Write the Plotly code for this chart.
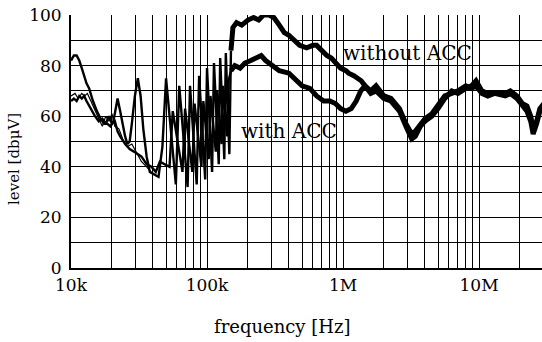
import numpy as np
import plotly.graph_objects as go

# ---- data (frequencies in kHz, levels in dBµV) ----
# "without ACC": low-frequency / comb part
wo_low_f = [10, 10.5, 11, 11.5, 12, 13, 13.6, 14.5, 15.5, 16.5, 17.5, 18.5, 19.5, 20.5,
            21.5, 22, 23, 24, 25, 26, 27, 28, 29.5, 31, 32.5, 34, 36, 38, 41, 44, 47,
            50, 59, 62.5, 72, 75, 84, 87.5, 97, 100, 109, 112.5, 122, 125, 134, 137.5, 146, 150]
wo_low_v = [82, 84, 84, 82, 79, 73, 71, 66, 62, 59, 57, 57, 56, 58,
            64, 67, 62, 56, 52, 49, 50, 57, 68, 75, 68, 55, 44, 38, 37, 36, 48,
            75, 33, 72, 32, 72, 33, 76, 35, 79, 38, 81, 41, 83, 43, 85, 45, 86]

# "without ACC": above 150 kHz
wo_high_f = [150, 155, 165, 180, 200, 220, 240, 260, 285, 310, 340, 370, 400, 445, 480,
             540, 600, 640, 700, 760, 820, 890, 960, 1050, 1100, 1200, 1360, 1500, 1600,
             1750, 2000, 2250, 2600, 2900, 3200, 3400, 3700, 4000, 4500, 5000, 5600, 6300,
             7000, 8000, 8800, 9500, 10500, 11600, 13000, 15600, 17000, 19000, 20800,
             22500, 24000, 25000, 26500, 28000, 30000]
wo_high_v = [86, 95, 97, 96, 98, 99, 98, 100, 100, 99, 96, 93, 92, 90, 88,
             87, 88, 88, 86, 84, 83, 81, 79, 78, 77, 76, 74, 71, 69,
             70, 67, 66, 62, 56, 51, 52, 56, 58, 60, 63, 67, 70,
             69, 71, 72, 74, 70, 69, 69, 69, 70, 68, 65,
             64, 60, 55, 58, 63, 65]

# "with ACC": low-frequency / comb part
w_low_f = [10, 10.5, 11, 11.5, 12, 12.5, 13, 14, 15, 16, 17, 18, 19, 20, 21, 22, 23,
           25, 27, 29, 31, 33, 36, 39, 42, 45,
           53, 56, 66, 69, 78, 81, 91, 94, 103, 106, 116, 119, 128, 131, 141, 144, 150]
w_low_v = [66, 67, 66, 68, 67, 68, 66, 63, 60, 58, 59, 57, 60, 57, 58, 54, 52,
           49, 47, 46, 45, 44, 41, 40, 38, 42,
           40, 62, 38, 63, 38, 65, 40, 66, 43, 68, 46, 70, 49, 72, 52, 74, 78]

# second thin measurement near "with ACC" at low frequency
w2_low_f = [10, 10.7, 11.3, 12, 12.6, 13.2, 14, 15, 16, 17, 18, 19, 20, 21, 22.5, 24,
            26, 28, 30, 33, 36, 40]
w2_low_v = [68, 69, 67, 69, 68, 69, 66, 62, 59, 56, 60, 58, 61, 56, 55, 51,
            48, 49, 46, 42, 40, 37]

# "with ACC": above 150 kHz
w_high_f = [150, 160, 175, 190, 210, 230, 250, 270, 300, 340, 400, 450, 500, 570, 640,
            720, 800, 880, 960, 1050, 1150, 1250, 1350, 1450, 1600, 1750, 2000, 2250,
            2600, 2900, 3200, 3400, 3700, 4000, 4500, 5000, 5600, 6300, 7000, 8000,
            8800, 9500, 10500, 11600, 13000, 15600, 17000, 19000, 20800, 22500, 24000,
            25000, 26500, 28000, 30000]
w_high_v = [78, 80, 79, 81, 82, 83, 84, 82, 80, 78, 77, 74, 72, 71, 68,
            66, 66, 65, 63, 62, 63, 66, 70, 72, 70, 72, 68, 67,
            63, 57, 53, 54, 57, 59, 61, 64, 68, 69, 70, 72,
            71, 72, 69, 68, 69, 68, 69, 67, 64, 62, 58,
            53, 57, 62, 64]

x_grid_vals = [m * 10 ** e for e in range(4, 8) for m in range(1, 10)]
x_tick_labels = {1e4: "10k", 1e5: "100k", 1e6: "1M", 1e7: "10M"}
y_grid_vals = list(range(0, 101, 10))
y_tick_labels = {0: "0", 20: "20", 40: "40", 60: "60", 80: "80", 100: "100"}

FONT = "DejaVu Serif"

def hz(khz):
    return [v * 1e3 for v in khz]

fig = go.Figure()
line_thin = dict(color="black", width=2.4)
line_thick = dict(color="black", width=5)
fig.add_trace(go.Scatter(x=hz(w2_low_f), y=w2_low_v, mode="lines",
                         line=dict(color="black", width=1.2)))
fig.add_trace(go.Scatter(x=hz(w_low_f), y=w_low_v, mode="lines", line=line_thin))
fig.add_trace(go.Scatter(x=hz(wo_low_f), y=wo_low_v, mode="lines", line=line_thin))
fig.add_trace(go.Scatter(x=hz(w_high_f), y=w_high_v, mode="lines", line=line_thick))
fig.add_trace(go.Scatter(x=hz(wo_high_f), y=wo_high_v, mode="lines", line=line_thick))

fig.add_annotation(x=np.log10(0.97e6), y=85, text="without ACC", showarrow=False,
                   xanchor="left", yanchor="middle",
                   font=dict(family=FONT, size=20, color="black"))
fig.add_annotation(x=np.log10(173e3), y=54, text="with ACC", showarrow=False,
                   xanchor="left", yanchor="middle",
                   font=dict(family=FONT, size=20, color="black"))

fig.add_annotation(xref="paper", yref="paper", x=0.448, y=-0.233,
                   text="frequency [Hz]", showarrow=False,
                   xanchor="center", yanchor="middle",
                   font=dict(family=FONT, size=18, color="black"))
fig.add_annotation(xref="paper", yref="paper", x=-0.121, y=0.431,
                   text="level [dbμV]", showarrow=False, textangle=-90,
                   xanchor="center", yanchor="middle",
                   font=dict(family=FONT, size=15, color="black"))

fig.update_xaxes(type="log", range=[4, 7.463],
                 tickvals=x_grid_vals,
                 ticktext=[x_tick_labels.get(v, "") for v in x_grid_vals],
                 showgrid=True, gridcolor="black", gridwidth=1.3,
                 showline=True, linecolor="black", linewidth=2,
                 ticks="", ticklabelstandoff=1, zeroline=False,
                 tickfont=dict(family=FONT, size=17, color="black"))
fig.update_yaxes(range=[0, 100],
                 tickvals=y_grid_vals,
                 ticktext=[y_tick_labels.get(v, "") for v in y_grid_vals],
                 showgrid=True, gridcolor="black", gridwidth=1.3,
                 showline=True, linecolor="black", linewidth=2,
                 ticks="", ticklabelstandoff=4, zeroline=False,
                 tickfont=dict(family=FONT, size=17, color="black"))

fig.update_layout(width=542, height=342,
                  margin=dict(l=71, r=0, t=15, b=74),
                  paper_bgcolor="white", plot_bgcolor="white",
                  showlegend=False)

# remove the browser's default 8px page margin so the figure fills the window
fig.write_html("out.html", config={"displayModeBar": False},
               post_script="document.body.style.margin='0';")
